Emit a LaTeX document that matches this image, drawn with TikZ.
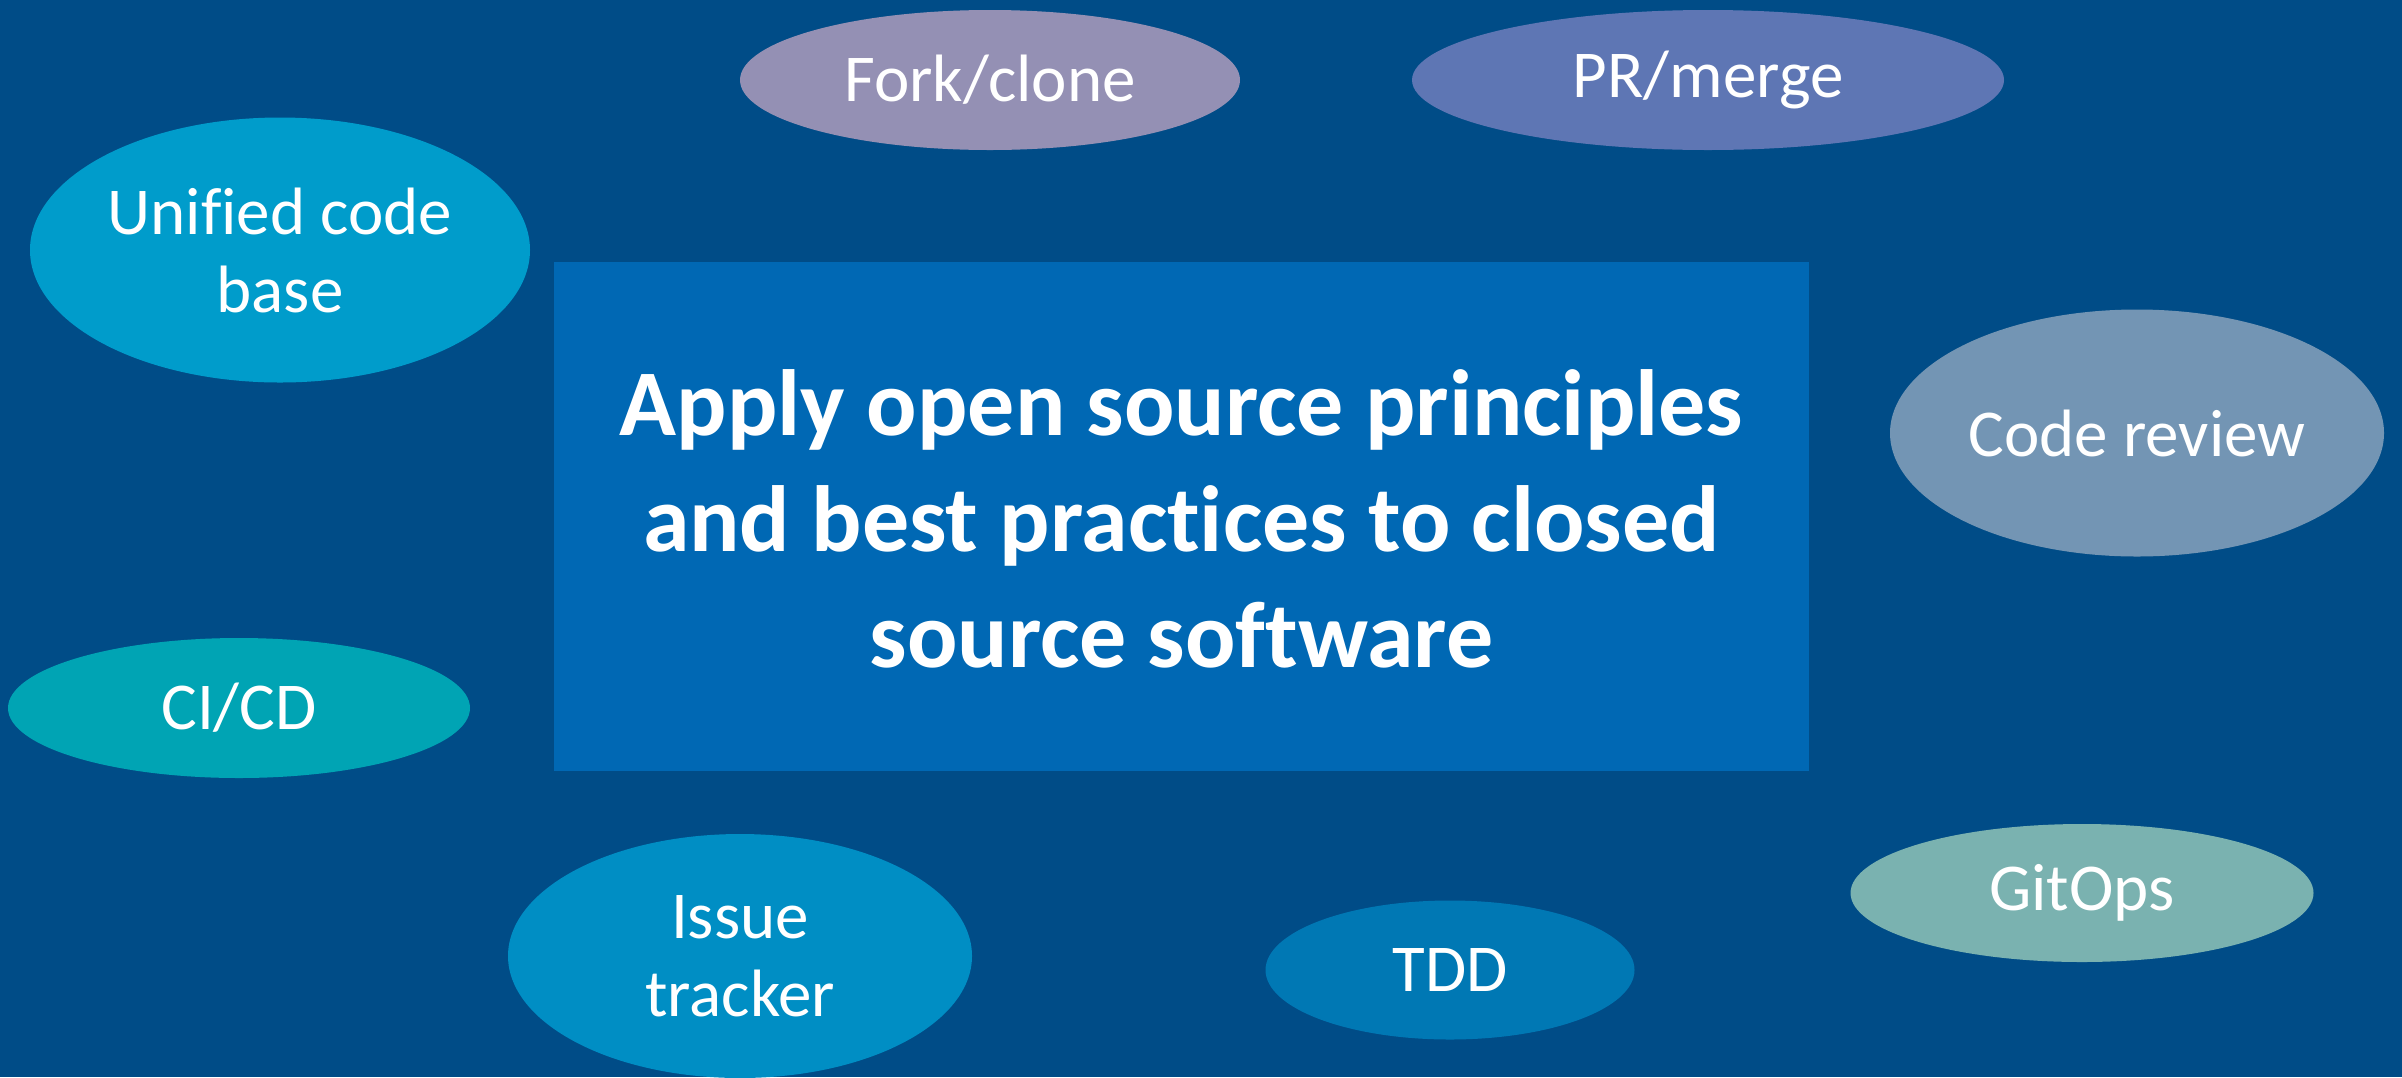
\documentclass[tikz,border=0pt]{standalone}
\usepackage{fontspec}
\setmainfont{Carlito}[Ligatures=NoCommon]
\usetikzlibrary{shapes.geometric}
\definecolor{bgblue}{HTML}{004C87}
\definecolor{rectblue}{HTML}{0068B4}
\definecolor{forkc}{HTML}{9490B4}
\definecolor{prc}{HTML}{5E76B4}
\definecolor{unic}{HTML}{009CCB}
\definecolor{reviewc}{HTML}{7395B4}
\definecolor{cicdc}{HTML}{00A4B4}
\definecolor{issuec}{HTML}{008EC4}
\definecolor{tddc}{HTML}{0078B4}
\definecolor{gitopsc}{HTML}{7AB2B0}
\tikzset{
  bubble/.style={ellipse, inner sep=0pt, text=white, align=center,
    font=\fontsize{33.5}{39}\selectfont},
  mainbox/.style={rectangle, fill=rectblue, inner sep=0pt, text=white, align=center,
    font=\fontsize{47}{58}\selectfont\bfseries}
}
\newcommand{\bub}[6]{% name, x, y, rx, ry, color ; text given after
  \node[bubble, fill=#6, minimum width=#4pt, minimum height=#5pt] (#1) at (#2,#3)}
\begin{document}
\begin{tikzpicture}[x=0.5pt, y=-0.5pt]
\fill[bgblue] (0,0) rectangle (2402,1077);
\useasboundingbox (0,0) rectangle (2402,1077);
\node[mainbox, minimum width=627.5pt, minimum height=254.5pt] (main) at (1181.5,516.5) {};
\node[mainbox, fill=none] (maintext) at (1181.5,519)
  {Apply open source principles\\and best practices to closed\\source software};
\bub{fork}{990}{80}{250}{70}{forkc} {Fork/clone};
\bub{pr}{1708}{80}{296}{70}{prc} {PR/merge};
\bub{unified}{280}{250}{250}{132.5}{unic} {Unified code\\base};
\bub{review}{2137}{433}{247}{123.5}{reviewc} {Code review};
\bub{cicd}{239}{708}{231}{70}{cicdc} {CI/CD};
\bub{issue}{740}{956}{232}{122}{issuec} {Issue\\tracker};
\bub{tdd}{1450}{970}{184.5}{69.5}{tddc} {TDD};
\bub{gitops}{2082}{893}{231.5}{69}{gitopsc} {GitOps};
\end{tikzpicture}
\end{document}
